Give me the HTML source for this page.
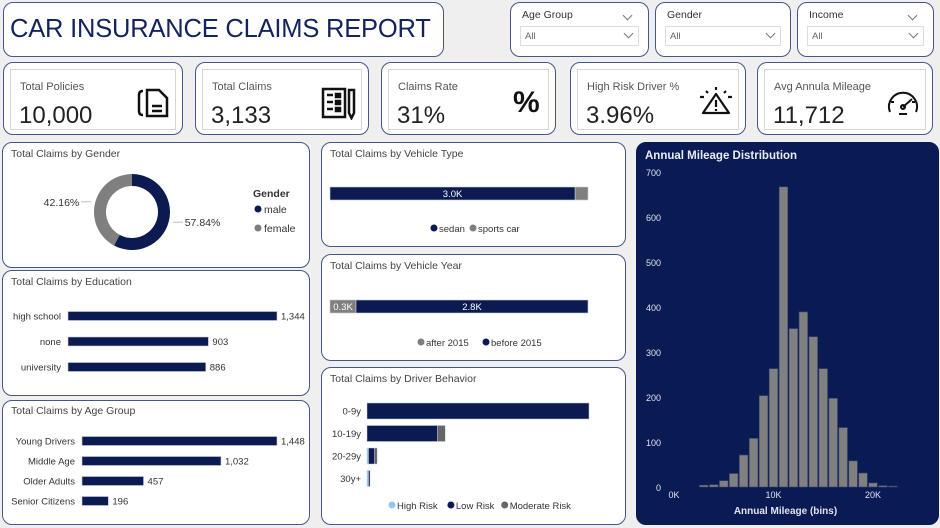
<!DOCTYPE html>
<html><head><meta charset="utf-8"><style>
*{box-sizing:border-box;margin:0;padding:0}
body{width:940px;height:528px;background:#efefef;font-family:"Liberation Sans",sans-serif;position:relative;overflow:hidden;color:#333}
.box{position:absolute;background:#fff;border:1px solid #45568a;border-radius:10px}
.t{position:absolute;font-size:10.5px;color:#444;white-space:nowrap}
.kin{position:absolute;left:6px;top:6px;right:6px;bottom:4px;border:1px solid #d6d6d6}
.kl{position:absolute;left:9px;top:11px;font-size:11px;color:#555}
.kv{position:absolute;left:8px;top:32px;font-size:24px;color:#222}
.dd{position:absolute;left:9px;right:9px;top:23px;height:20px;border:1px solid #ddd;font-size:9.5px;color:#666;padding:4px 0 0 4px}
.dd:after,.sl:after{content:"";position:absolute;right:6px;top:3px;width:6px;height:6px;border-right:1px solid #777;border-bottom:1px solid #777;transform:rotate(45deg)}
.sl{position:absolute;left:11px;right:11px;top:6px;font-size:10.5px;color:#333}
.sl.nc:after{display:none}
svg text{font-family:"Liberation Sans",sans-serif}
</style></head><body>
<div class="box" style="left:3px;top:2px;width:441px;height:55px">
<div style="position:absolute;left:6px;top:12px;font-size:25.5px;color:#13235e;white-space:nowrap;letter-spacing:-0.2px">CAR INSURANCE CLAIMS REPORT</div></div>

<div class="box" style="left:510px;top:2px;width:139px;height:55px"><div class="sl">Age Group</div><div class="dd">All</div></div>
<div class="box" style="left:655px;top:2px;width:136px;height:55px"><div class="sl nc">Gender</div><div class="dd">All</div></div>
<div class="box" style="left:797px;top:2px;width:137px;height:55px"><div class="sl">Income</div><div class="dd">All</div></div>

<div class="box" style="left:3px;top:62px;width:180px;height:73px"><div class="kin"><div class="kl">Total Policies</div><div class="kv">10,000</div>
<svg style="position:absolute;left:126px;top:17px" width="34" height="32" viewBox="0 0 34 32" fill="none" stroke="#111" stroke-width="2.5"><path d="M6 4 Q2 4 2 8 V24 Q2 28 6 28"/><path d="M10 3 H22 L30 11 V29 H10 Z"/><path d="M15 19 H25 M15 24 H25"/></svg></div></div>
<div class="box" style="left:195px;top:62px;width:174px;height:73px"><div class="kin"><div class="kl">Total Claims</div><div class="kv">3,133</div>
<svg style="position:absolute;left:118px;top:16px" width="36" height="34" viewBox="0 0 36 34" fill="none" stroke="#111" stroke-width="2.5"><rect x="2" y="3" width="22" height="28"/><path d="M6 9 H12 M6 16 H12 M6 23 H12"/><rect x="15" y="8" width="4" height="3" fill="#111"/><rect x="15" y="15" width="4" height="3" fill="#111"/><rect x="15" y="22" width="4" height="3" fill="#111"/><path d="M28 4 H33 V27 L30.5 32 L28 27 Z"/></svg></div></div>
<div class="box" style="left:381px;top:62px;width:175px;height:73px"><div class="kin"><div class="kl">Claims Rate</div><div class="kv">31%</div>
<div style="position:absolute;left:124px;top:16px;font-size:30px;font-weight:bold;color:#111">%</div></div></div>
<div class="box" style="left:570px;top:62px;width:176px;height:73px"><div class="kin"><div class="kl">High Risk Driver %</div><div class="kv">3.96%</div>
<svg style="position:absolute;left:120px;top:16px" width="36" height="30" viewBox="0 0 36 30" fill="none" stroke="#111" stroke-width="2.2"><path d="M18 8 L31 27 H5 Z" stroke-linejoin="round"/><path d="M18 14 V21 M18 23 V25"/><path d="M18 1 V4 M8 5 L10 7 M28 5 L26 7 M2 11 H6 M30 11 H34"/></svg></div></div>
<div class="box" style="left:757px;top:62px;width:176px;height:73px"><div class="kin"><div class="kl">Avg Annula Mileage</div><div class="kv">11,712</div>
<svg style="position:absolute;left:120px;top:18px" width="36" height="28" viewBox="0 0 36 28" fill="none" stroke="#111" stroke-width="2"><path d="M5 24 A14 14 0 1 1 31 24"/><path d="M18 19 L27 11"/><circle cx="18" cy="19" r="2"/><path d="M14 26 H22 M6 14 H9 M27 14 H30"/></svg></div></div>

<div class="box" style="left:2px;top:142px;width:308px;height:126px">
<div class="t" style="left:8px;top:5px">Total Claims by Gender</div>
<svg id="gsvg" width="306" height="124" style="position:absolute;left:0;top:0"></svg></div>

<div class="box" style="left:2px;top:270px;width:308px;height:126px">
<div class="t" style="left:8px;top:5px">Total Claims by Education</div>
<svg id="esvg" width="306" height="124" style="position:absolute;left:0;top:0"></svg></div>

<div class="box" style="left:2px;top:400px;width:308px;height:125px">
<div class="t" style="left:8px;top:4px">Total Claims by Age Group</div>
<svg id="asvg" width="306" height="123" style="position:absolute;left:0;top:0"></svg></div>

<div class="box" style="left:321px;top:142px;width:305px;height:105px">
<div class="t" style="left:8px;top:5px">Total Claims by Vehicle Type</div>
<svg id="vtsvg" width="303" height="103" style="position:absolute;left:0;top:0"></svg></div>

<div class="box" style="left:321px;top:254px;width:305px;height:107px">
<div class="t" style="left:8px;top:5px">Total Claims by Vehicle Year</div>
<svg id="vysvg" width="303" height="105" style="position:absolute;left:0;top:0"></svg></div>

<div class="box" style="left:321px;top:367px;width:305px;height:158px">
<div class="t" style="left:8px;top:5px">Total Claims by Driver Behavior</div>
<svg id="dsvg" width="303" height="156" style="position:absolute;left:0;top:0"></svg></div>

<div class="box" style="left:636px;top:142px;width:303px;height:383px;background:#0a1a52;border-color:#0a1a52">
<svg id="hsvg" width="303" height="383" style="position:absolute;left:-1px;top:-1px"></svg></div>

<script>
const NS="http://www.w3.org/2000/svg";
function mk(p,tag,a,txt){const e=document.createElementNS(NS,tag);for(const k in a)e.setAttribute(k,a[k]);if(txt!==undefined)e.textContent=txt;p.appendChild(e);return e;}
const NAVY="#0b1a50",GREY="#7f7f7f";

const genderCats=["male","female"];
const genderVals=[57.84,42.16];
(function(){const s=document.getElementById("gsvg");const cx=129,cy=69,ro=38,ri=26;let a0=-Math.PI/2;const tot=genderVals.reduce((a,b)=>a+b,0);
genderVals.forEach((v,i)=>{const a1=a0+v/tot*2*Math.PI;const lg=(a1-a0)>Math.PI?1:0;
const p=`M${cx+ro*Math.cos(a0)} ${cy+ro*Math.sin(a0)} A${ro} ${ro} 0 ${lg} 1 ${cx+ro*Math.cos(a1)} ${cy+ro*Math.sin(a1)} L${cx+ri*Math.cos(a1)} ${cy+ri*Math.sin(a1)} A${ri} ${ri} 0 ${lg} 0 ${cx+ri*Math.cos(a0)} ${cy+ri*Math.sin(a0)} Z`;
const e=mk(s,"path",{d:p,fill:i==0?NAVY:GREY});


const am=(a0+a1)/2;const lx=cx+(ro+4)*Math.cos(am),ly=cy+(ro+4)*Math.sin(am);const right=Math.cos(am)>0;
mk(s,"line",{x1:lx,y1:ly,x2:lx+(right?10:-10),y2:ly,stroke:"#bbb"});
const t=mk(s,"text",{x:lx+(right?12:-12),y:ly+4,"font-size":10.5,fill:"#333","text-anchor":right?"start":"end"},v.toFixed(2)+"%");


a0=a1;});
mk(s,"text",{x:250,y:54,"font-size":10.5,"font-weight":"bold",fill:"#333"},"Gender");
genderCats.forEach((c,i)=>{const y=70+i*19;const d=mk(s,"circle",{cx:255,cy:y-4,r:3.5,fill:i==0?NAVY:GREY});


mk(s,"text",{x:261,y:y,"font-size":10.5,fill:"#333"},c);});})();

function hbar(id,cats,vals,x0,x1,vmax,y0,step,h){const s=document.getElementById(id);const sc=v=>x0+(v/vmax)*(x1-x0);
cats.forEach((c,i)=>{const y=y0+i*step;const r=mk(s,"rect",{x:x0,y:y-h/2,width:sc(vals[i])-x0,height:h,fill:NAVY,stroke:"#c8cde0","stroke-width":0.6});


mk(s,"text",{x:x0-7,y:y+3.5,"font-size":9.5,fill:"#333","text-anchor":"end"},c);
mk(s,"text",{x:sc(vals[i])+4,y:y+3.5,"font-size":9.5,fill:"#333"},vals[i].toLocaleString("en-US"));});}

const eduCats=["high school","none","university"];
const eduVals=[1344,903,886];
hbar("esvg",eduCats,eduVals,65,274,1344,45,25.5,9);
const ageCats=["Young Drivers","Middle Age","Older Adults","Senior Citizens"];
const ageVals=[1448,1032,457,196];
hbar("asvg",ageCats,ageVals,79,274,1448,40,20,9);

function stack(id,segs,cols,lbls,x0,x1,y,h,names,legY,legOrder){const s=document.getElementById(id);const tot=segs.reduce((a,b)=>a+b,0);let x=x0;
segs.forEach((v,i)=>{const w=v/tot*(x1-x0);const r=mk(s,"rect",{x:x,y:y,width:w,height:h,fill:cols[i],stroke:"#c8cde0","stroke-width":0.6});


if(lbls[i])mk(s,"text",{x:x+w/2,y:y+h/2+3.5,"font-size":9.5,fill:"#fff","text-anchor":"middle"},lbls[i]);x+=w;});
let lx=legOrder.x;legOrder.items.forEach(it=>{const d=mk(s,"circle",{cx:lx+4,cy:legY-3,r:3.5,fill:it.c});


mk(s,"text",{x:lx+9,y:legY+1,"font-size":9.5,fill:"#333"},it.n);lx+=9+it.n.length*5.2+4;});}
function fmtK(v){return (v/1000).toFixed(1)+"K";}
const vtCats=["sedan","sports car"];
const vtVals=[2977,156];
stack("vtsvg",vtVals,[NAVY,GREY],[fmtK(vtVals[0]),""],8,266,44,13,vtCats,88,{x:108,items:[{n:"sedan",c:NAVY},{n:"sports car",c:GREY}]});
const vyCats=["after 2015","before 2015"];
const vyVals=[316,2817];
stack("vysvg",vyVals,[GREY,NAVY],vyVals.map(fmtK),8,266,45,13,vyCats,90,{x:95,items:[{n:"after 2015",c:GREY},{n:"before 2015",c:NAVY}]});

const drvCats=["0-9y","10-19y","20-29y","30y+"];
const drvHigh=[0,0,12,8];
const drvLow=[2170,690,60,8];
const drvMod=[0,75,25,0];
(function(){const s=document.getElementById("dsvg");const x0=45,x1=267,vmax=2170;const sc=v=>v/vmax*(x1-x0);const cols=["#8fc8f5",NAVY,"#666"];
drvCats.forEach((c,i)=>{const y=43+i*22.5;let x=x0;[drvHigh[i],drvLow[i],drvMod[i]].forEach((v,j)=>{if(v<=0)return;const w=Math.max(sc(v),1.5);
const r=mk(s,"rect",{x:x,y:y-8,width:w,height:16,fill:cols[j],stroke:"#c8cde0","stroke-width":0.5});


x+=w;});
mk(s,"text",{x:x0-6,y:y+3.5,"font-size":9.5,fill:"#333","text-anchor":"end"},c);});
let lx=66;[["High Risk",cols[0]],["Low Risk",cols[1]],["Moderate Risk",cols[2]]].forEach(([n,c])=>{const d=mk(s,"circle",{cx:lx+4,cy:137,r:3.5,fill:c});


mk(s,"text",{x:lx+9,y:141,"font-size":9.5,fill:"#333"},n);lx+=9+n.length*5.1+4;});})();

const binCenters=[3,4,5,6,7,8,9,10,11,12,13,14,15,16,17,18,19,20,21,22];
const binCounts=[4,5,14,30,71,108,203,263,667,352,389,334,263,197,132,58,31,9,3,2];
const yTicks=[0,100,200,300,400,500,600,700];
const xTicks=[0,10,20];
(function(){const s=document.getElementById("hsvg");const ox=636,oy=142;
const X=k=>674-ox+k*9.95, Y=v=>487-oy-v*0.45;
mk(s,"text",{x:9,y:17,"font-size":11.5,"font-weight":"bold",fill:"#e8ebf5"},"Annual Mileage Distribution");
yTicks.forEach(t=>mk(s,"text",{x:25,y:Y(t)+4,"font-size":9,fill:"#e0e4f0","text-anchor":"end"},t));
xTicks.forEach(t=>mk(s,"text",{x:X(t),y:356,"font-size":9,fill:"#e0e4f0","text-anchor":"middle"},t+"K"));
mk(s,"text",{x:X(10)+12,y:372,"font-size":10,"font-weight":"bold",fill:"#e0e4f0","text-anchor":"middle"},"Annual Mileage (bins)");
binCenters.forEach((c,i)=>{const r=mk(s,"rect",{x:X(c)-4.3,y:Y(binCounts[i]),width:8.6,height:binCounts[i]*0.45,fill:"#808080",stroke:"#3a4570","stroke-width":0.6});

});})();
</script>
</body></html>
